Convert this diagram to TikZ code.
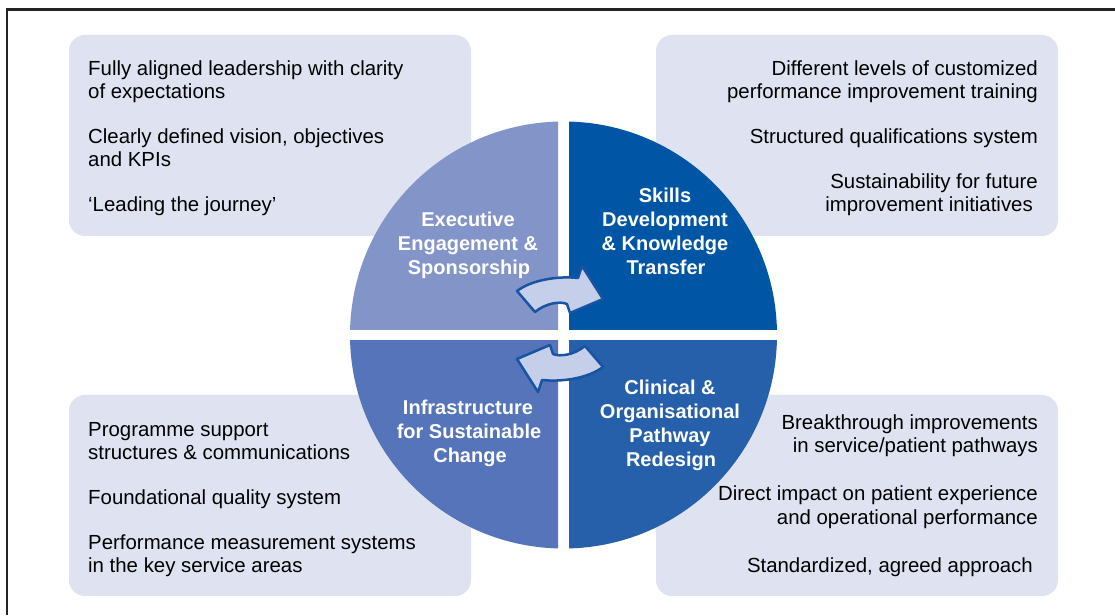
\documentclass[tikz,border=0pt]{standalone}
\usepackage{fontspec}
\setmainfont{Liberation Sans}
\definecolor{boxfill}{RGB}{223,227,241}
\definecolor{qTL}{RGB}{131,148,200}
\definecolor{qTR}{RGB}{0,85,164}
\definecolor{qBL}{RGB}{85,116,185}
\definecolor{qBR}{RGB}{38,95,170}
\definecolor{arrfill}{RGB}{197,207,233}
\definecolor{arrline}{RGB}{24,84,162}
\definecolor{framecol}{RGB}{35,35,35}
\tikzset{
  infobox/.style={fill=boxfill, rounded corners=16pt},
  bodyl/.style={font=\fontsize{20.4}{23}\selectfont, inner sep=0pt, anchor=base west},
  bodyr/.style={font=\fontsize{20.4}{23}\selectfont, inner sep=0pt, anchor=base east},
  qlabel/.style={font=\fontsize{20}{24}\selectfont\bfseries, text=white, inner sep=0pt, anchor=base},
  arrowshape/.style={fill=arrfill, draw=arrline, line width=2.5pt, line join=round},
  swirl/.pic={
    \path[arrowshape] (-43,38) .. controls (-27,50) and (0,53) .. (18,51)
      -- (22,63) -- (43,30) -- (10,16) -- (7,25)
      .. controls (0,28) and (-14,26) .. (-25,17) -- cycle;
  }
}
\begin{document}
\begin{tikzpicture}[x=1pt,y=1pt]
\useasboundingbox (0,0) rectangle (1115,615);
\fill[white] (0,0) rectangle (1115,615);
% frame
\draw[line width=2.5pt, framecol] (7,0) -- (7,605.5) -- (1115,605.5);
% boxes
\fill[infobox] (69,580) rectangle (471,379);
\fill[infobox] (656,580) rectangle (1058,379);
\fill[infobox] (69,220) rectangle (471,19);
\fill[infobox] (656,220) rectangle (1058,19);
% quadrants
\begin{scope}\clip (340,285) rectangle (558,500); \fill[qTL] (563.5,280) circle (213.5);\end{scope}
\begin{scope}\clip (569,285) rectangle (790,500); \fill[qTR] (563.5,280) circle (213.5);\end{scope}
\begin{scope}\clip (340,274) rectangle (558,60); \fill[qBL] (563.5,280) circle (213.5);\end{scope}
\begin{scope}\clip (569,274) rectangle (790,60); \fill[qBR] (563.5,280) circle (213.5);\end{scope}
% arrows
\pic at (560,286) {swirl};
\pic[rotate=180] at (560,286) {swirl};
% quadrant labels
\node[qlabel] (e1) at (468,388) {Executive};
\node[qlabel] (e2) at (468,364) {Engagement \&};
\node[qlabel] (e3) at (469,340) {Sponsorship};
\node[qlabel] (s1) at (665,412) {Skills};
\node[qlabel] (s2) at (665,388) {Development};
\node[qlabel] (s3) at (665,364) {\& Knowledge};
\node[qlabel] (s4) at (666,340) {Transfer};
\node[qlabel] (i1) at (468,200) {Infrastructure};
\node[qlabel] (i2) at (469,176) {for Sustainable};
\node[qlabel] (i3) at (470,152) {Change};
\node[qlabel] (c1) at (670,220) {Clinical \&};
\node[qlabel] (c2) at (670,196) {Organisational};
\node[qlabel] (c3) at (670,172) {Pathway};
\node[qlabel] (c4) at (671,148) {Redesign};
% top-left text
\node[bodyl] (tl1) at (88,539) {Fully aligned leadership with clarity};
\node[bodyl] (tl2) at (88,516) {of expectations};
\node[bodyl] (tl3) at (88,471) {Clearly defined vision, objectives};
\node[bodyl] (tl4) at (88,448) {and KPIs};
\node[bodyl] (tl5) at (88,403) {‘Leading the journey’};
% top-right text
\node[bodyr] (tr1) at (1038,539) {Different levels of customized};
\node[bodyr] (tr2) at (1038,516) {performance improvement training};
\node[bodyr] (tr3) at (1038,471) {Structured qualifications system};
\node[bodyr] (tr4) at (1038,426) {Sustainability for future};
\node[bodyr] (tr5) at (1033,403) {improvement initiatives};
% bottom-left text
\node[bodyl] (bl1) at (88,178) {Programme support};
\node[bodyl] (bl2) at (88,155) {structures \& communications};
\node[bodyl] (bl3) at (88,110) {Foundational quality system};
\node[bodyl] (bl4) at (88,65) {Performance measurement systems};
\node[bodyl] (bl5) at (88,42) {in the key service areas};
% bottom-right text
\node[bodyr] (br1) at (1038,185) {Breakthrough improvements};
\node[bodyr] (br2) at (1038,162) {in service/patient pathways};
\node[bodyr] (br3) at (1038,114) {Direct impact on patient experience};
\node[bodyr] (br4) at (1038,90) {and operational performance};
\node[bodyr] (br5) at (1033,42) {Standardized, agreed approach};
\end{tikzpicture}
\end{document}
